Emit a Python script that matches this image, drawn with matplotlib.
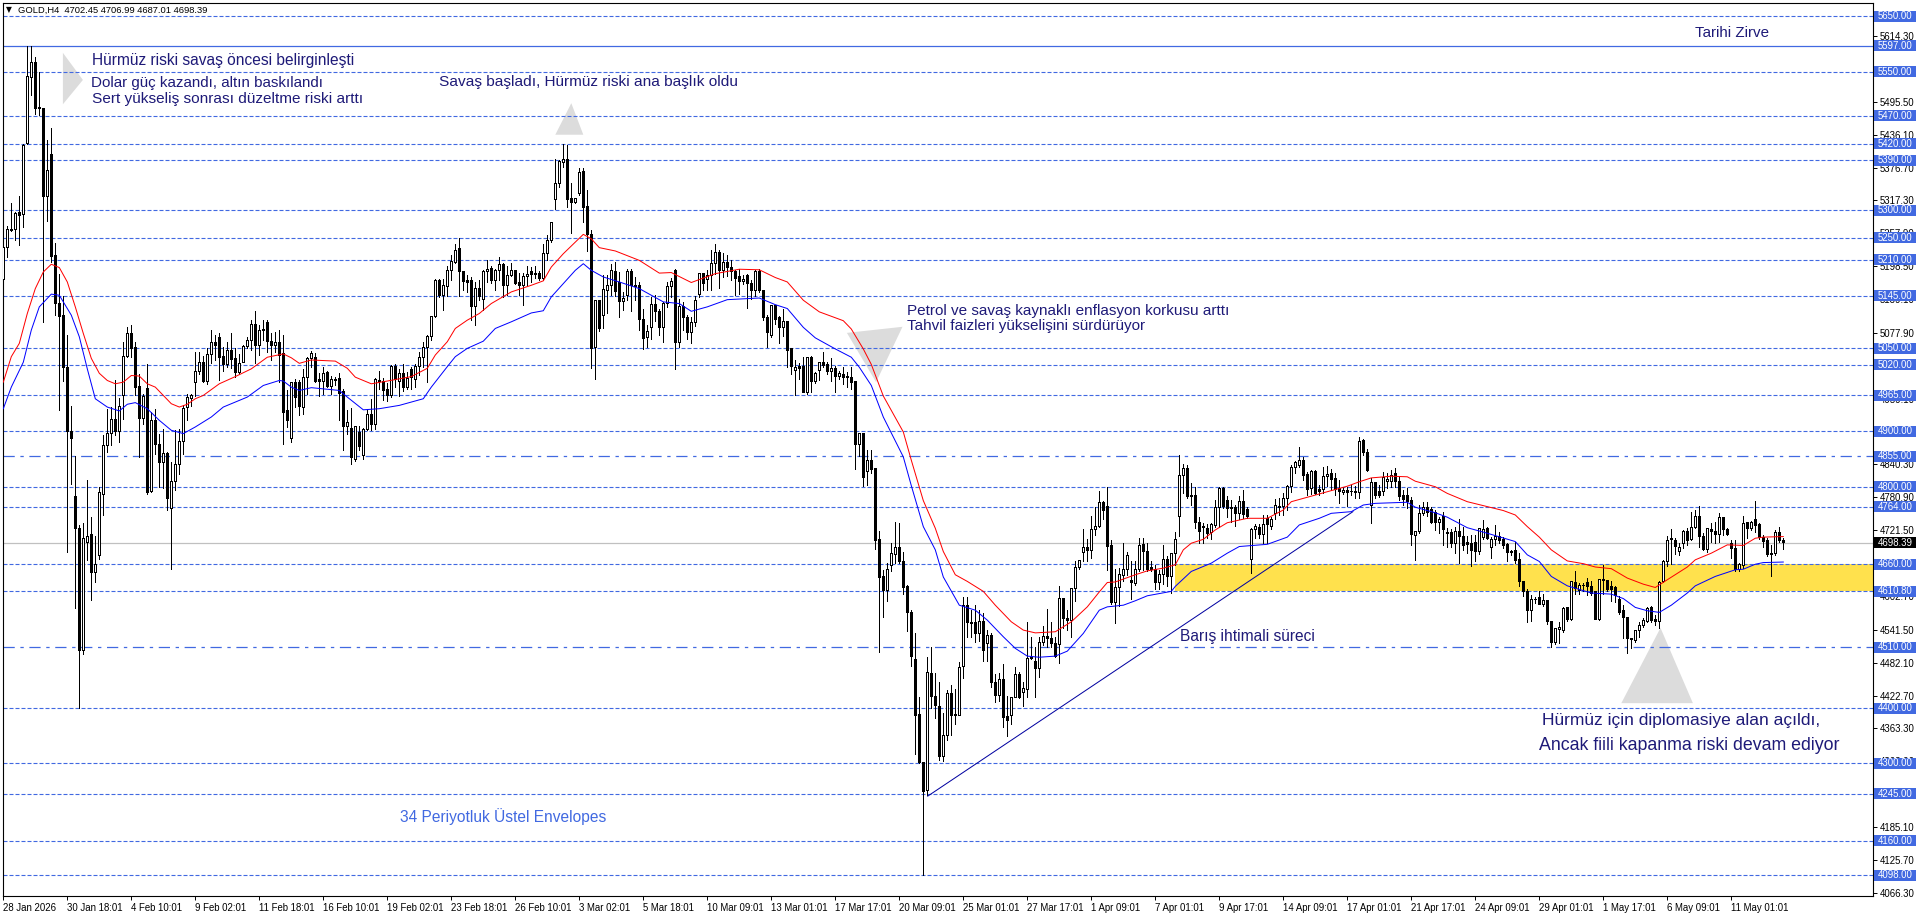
import matplotlib
matplotlib.use("Agg")
import matplotlib.pyplot as plt
from matplotlib.patches import Polygon, Rectangle
from matplotlib.transforms import blended_transform_factory

W, H = 1916, 917

opens = [5174,5233,5263,5265,5296,5292,5421,5540,5566,5486,
5484,5325,5400,5217,5131,5110,5015,4900,4782,4725,
4505,4700,4713,4645,4675,4786,4875,4896,4921,4899,
4964,5035,5077,5052,4981,4923,4977,4792,4920,4877,
4843,4860,4760,4810,4841,4881,4944,4960,4989,5009,
5025,4991,5039,5060,5069,5035,5021,5047,5031,5007,
5025,5053,5064,5093,5056,5085,5097,5062,5056,5060,
5040,4937,4888,4988,4988,4944,4997,5032,5033,4994,
4991,5006,4982,4994,4995,4972,4908,4905,4850,4898,
4857,4904,4931,4913,4992,4990,4976,4965,5018,4991,
5004,4980,5012,4994,5018,5033,5051,5071,5107,5173,
5146,5161,5190,5206,5230,5189,5173,5173,5125,5158,
5138,5188,5195,5173,5190,5201,5163,5182,5191,5169,
5164,5180,5189,5185,5186,5177,5221,5244,5319,5348,
5386,5391,5321,5313,5330,5370,5307,5256,5051,5137,
5109,5155,5163,5189,5169,5134,5146,5189,5164,5164,
5103,5069,5088,5129,5117,5088,5131,5162,5191,5061,
5126,5105,5078,5096,5147,5185,5174,5182,5203,5223,
5191,5205,5197,5188,5179,5170,5182,5167,5155,5189,
5155,5105,5073,5127,5105,5087,5099,5049,5010,5017,
5017,4970,5034,4990,5010,5025,5020,5008,5013,5000,
5002,4999,4998,4990,4876,4896,4827,4848,4833,4704,
4637,4613,4657,4678,4690,4665,4620,4573,4487,4388,
4302,4252,4463,4421,4403,4313,4351,4427,4389,4387,
4475,4586,4555,4555,4535,4557,4516,4532,4446,4422,
4452,4385,4386,4420,4460,4428,4434,4490,4485,4472,
4519,4530,4526,4517,4515,4598,4562,4558,4616,4654,
4681,4690,4685,4723,4728,4772,4764,4693,4591,4618,
4640,4650,4631,4626,4651,4695,4683,4654,4650,4627,
4642,4669,4637,4680,4746,4821,4833,4785,4785,4736,
4729,4725,4717,4730,4763,4796,4776,4763,4763,4751,
4774,4759,4669,4722,4727,4714,4743,4729,4751,4763,
4764,4779,4800,4835,4838,4848,4822,4796,4828,4795,
4795,4818,4824,4815,4797,4790,4793,4792,4792,4789,
4883,4862,4767,4808,4792,4792,4809,4809,4824,4810,
4784,4785,4776,4712,4719,4751,4763,4758,4753,4735,
4747,4717,4717,4698,4720,4711,4700,4698,4699,4683,
4709,4724,4690,4704,4710,4704,4695,4683,4684,4668,
4629,4611,4576,4597,4600,4588,4595,4556,4518,4542,
4541,4582,4561,4627,4613,4621,4627,4620,4610,4561,
4632,4630,4620,4618,4597,4576,4564,4525,4522,4540,
4549,4556,4582,4561,4556,4629,4665,4704,4703,4683,
4698,4719,4704,4726,4747,4711,4686,4723,4719,4714,
4744,4723,4698,4689,4651,4657,4735,4724,4740,4731,
4709,4703,4680,4680,4717,4702.45]

highs = [5235,5272,5312,5296,5326,5419,5596,5596,5577,5549,
5485,5426,5449,5241,5185,5144,5074,4945,4855,4730,
4735,4812,4745,4711,4800,4893,4941,4944,4992,4961,
5062,5088,5092,5061,5004,4968,5022,4935,4941,4896,
4905,4863,4845,4903,4905,4947,4968,4968,5043,5043,
5037,5050,5083,5074,5077,5053,5062,5077,5050,5040,
5056,5071,5101,5118,5092,5101,5101,5077,5080,5083,
5075,4974,4990,4995,4992,5013,5035,5045,5041,5005,
5017,5010,5000,4998,5005,4977,4939,4943,4910,4909,
4906,4938,4959,4996,5010,4996,4988,5020,5021,5013,
5022,5007,5016,5022,5043,5062,5075,5107,5176,5176,
5176,5199,5218,5238,5250,5190,5182,5179,5170,5173,
5192,5210,5198,5194,5215,5204,5198,5205,5192,5186,
5186,5199,5197,5198,5189,5239,5254,5278,5393,5390,
5420,5417,5348,5321,5375,5375,5336,5263,5137,5138,
5182,5182,5202,5206,5188,5152,5193,5194,5179,5170,
5122,5093,5143,5146,5122,5134,5170,5177,5193,5140,
5134,5110,5106,5144,5186,5186,5192,5228,5238,5227,
5223,5218,5209,5192,5194,5183,5185,5174,5192,5194,
5155,5110,5127,5129,5108,5122,5100,5051,5029,5023,
5035,5034,5036,5007,5025,5044,5025,5033,5019,5010,
5016,5007,5016,4990,4897,4897,4866,4866,4833,4720,
4650,4662,4698,4736,4734,4683,4622,4577,4535,4421,
4302,4492,4511,4463,4448,4391,4433,4442,4434,4484,
4601,4600,4578,4586,4578,4571,4542,4535,4462,4463,
4480,4422,4420,4475,4466,4448,4555,4529,4511,4529,
4549,4580,4556,4529,4620,4598,4577,4616,4665,4666,
4723,4705,4747,4764,4793,4775,4799,4704,4651,4653,
4699,4683,4665,4665,4707,4707,4698,4666,4658,4650,
4695,4674,4680,4719,4857,4842,4839,4806,4800,4745,
4734,4733,4734,4776,4800,4799,4783,4776,4767,4783,
4795,4763,4726,4733,4733,4749,4749,4745,4777,4779,
4788,4803,4839,4847,4871,4854,4827,4830,4830,4803,
4836,4837,4832,4825,4813,4799,4800,4803,4801,4889,
4886,4868,4815,4809,4803,4827,4824,4831,4833,4818,
4794,4797,4782,4720,4767,4773,4773,4763,4758,4745,
4755,4725,4723,4728,4741,4728,4711,4713,4713,4726,
4740,4728,4709,4730,4718,4709,4698,4686,4701,4680,
4630,4616,4604,4601,4611,4607,4595,4556,4544,4556,
4583,4583,4630,4648,4626,4627,4635,4629,4610,4634,
4659,4632,4630,4620,4602,4586,4564,4526,4542,4556,
4562,4583,4585,4568,4629,4668,4711,4723,4707,4698,
4722,4726,4754,4758,4765,4716,4725,4734,4737,4752,
4746,4726,4704,4704,4662,4747,4737,4739,4774,4734,
4713,4707,4695,4721,4728,4706.99]

lows = [5158,5215,5262,5246,5236,5270,5420,5507,5473,5471,
5098,5281,5206,5110,4939,4991,4683,4805,4581,4400,
4497,4667,4595,4628,4670,4749,4862,4875,4893,4881,
4923,5035,5034,4965,4854,4914,4787,4790,4860,4800,
4798,4758,4651,4795,4823,4860,4920,4945,4964,5004,
4989,4986,5024,5029,4992,5010,5017,5014,4998,5004,
5025,5050,5047,5023,5038,5065,5044,5029,5044,4990,
4878,4908,4880,4944,4930,4931,4968,5017,4989,4964,
4968,4980,4967,4984,4920,4866,4896,4841,4846,4866,
4850,4902,4902,4905,4977,4956,4955,4962,4980,4964,
4973,4977,4977,4980,5001,5016,4990,5066,5107,5143,
5120,5144,5173,5204,5144,5155,5152,5101,5092,5138,
5119,5170,5168,5155,5173,5143,5146,5180,5167,5146,
5128,5164,5170,5178,5173,5173,5209,5243,5301,5342,
5377,5306,5259,5313,5327,5278,5226,5015,4995,5081,
5086,5114,5146,5144,5107,5120,5137,5118,5137,5084,
5049,5053,5067,5100,5075,5061,5125,5143,5013,5053,
5084,5067,5060,5090,5143,5155,5155,5155,5185,5159,
5179,5180,5173,5146,5149,5167,5123,5140,5144,5152,
5102,5052,5070,5094,5060,5073,5016,5004,4965,4995,
4971,4967,4971,4987,4993,5016,5004,4991,4971,4995,
4986,4980,4977,4832,4855,4802,4804,4825,4687,4502,
4565,4594,4648,4662,4662,4607,4539,4476,4318,4301,
4098,4243,4400,4382,4306,4305,4342,4352,4371,4387,
4455,4528,4528,4520,4522,4486,4486,4438,4412,4413,
4366,4350,4371,4420,4418,4403,4420,4488,4420,4457,
4514,4511,4511,4492,4481,4544,4541,4529,4594,4652,
4665,4665,4672,4713,4728,4741,4650,4588,4553,4585,
4630,4640,4598,4622,4648,4650,4647,4647,4615,4616,
4625,4620,4608,4659,4711,4788,4779,4767,4725,4699,
4698,4707,4705,4727,4728,4761,4745,4737,4729,4741,
4743,4743,4644,4707,4707,4699,4699,4723,4741,4749,
4749,4758,4791,4824,4836,4812,4785,4787,4787,4785,
4789,4801,4794,4785,4770,4787,4765,4785,4779,4779,
4857,4828,4735,4779,4782,4785,4797,4800,4800,4776,
4767,4761,4695,4668,4716,4749,4747,4734,4722,4716,
4695,4692,4692,4681,4662,4686,4681,4657,4665,4679,
4705,4705,4672,4695,4698,4689,4666,4677,4663,4621,
4603,4555,4558,4590,4588,4585,4552,4510,4516,4517,
4538,4558,4559,4607,4607,4612,4604,4604,4561,4560,
4607,4611,4594,4591,4570,4526,4500,4508,4520,4529,
4547,4555,4556,4550,4545,4628,4656,4660,4679,4677,
4690,4694,4704,4726,4692,4686,4683,4701,4698,4701,
4713,4713,4671,4648,4648,4654,4707,4721,4719,4705,
4692,4675,4638,4677,4701,4687.01]

closes = [5233,5265,5265,5294,5290,5417,5541,5566,5484,5483,
5325,5372,5216,5131,5108,5015,4900,4888,4724,4505,
4707,4710,4645,4659,4789,4875,4896,4921,4899,4945,
5036,5077,5050,4980,4923,4963,4790,4920,4877,4843,
4860,4778,4810,4841,4881,4941,4962,4964,5009,5025,
4991,5039,5060,5056,5033,5021,5047,5030,5006,5022,
5054,5064,5093,5056,5083,5082,5062,5056,5060,5038,
4935,4920,4988,4961,4945,4997,5032,5041,4991,4991,
5005,4982,4994,4992,4968,4908,4916,4852,4908,4873,
4904,4931,4913,4994,4990,4974,4965,5018,4994,5004,
4980,4996,4998,5018,5033,5051,5071,5107,5173,5146,
5163,5191,5207,5227,5188,5170,5169,5125,5158,5143,
5189,5192,5173,5191,5201,5163,5182,5191,5168,5164,
5180,5184,5183,5183,5177,5221,5245,5277,5348,5387,
5391,5319,5313,5321,5368,5305,5256,5050,5136,5086,
5156,5164,5191,5152,5134,5141,5189,5163,5162,5102,
5067,5081,5129,5116,5088,5131,5162,5171,5061,5126,
5105,5078,5096,5137,5185,5168,5182,5203,5223,5191,
5205,5197,5188,5177,5170,5174,5167,5155,5189,5155,
5105,5078,5127,5102,5087,5099,5047,5018,5015,5014,
4971,5033,4990,5004,5025,5019,5008,5013,5000,5004,
4998,4997,4989,4876,4897,4817,4848,4831,4703,4636,
4613,4650,4680,4690,4665,4618,4572,4493,4386,4301,
4250,4465,4421,4405,4312,4351,4427,4386,4386,4474,
4586,4555,4553,4534,4557,4505,4532,4446,4422,4452,
4383,4377,4420,4460,4420,4436,4490,4491,4472,4519,
4530,4525,4516,4493,4598,4562,4558,4616,4654,4666,
4690,4685,4723,4728,4772,4757,4692,4591,4618,4642,
4651,4676,4627,4651,4693,4683,4651,4651,4627,4642,
4669,4637,4680,4705,4821,4833,4782,4782,4735,4719,
4727,4716,4731,4763,4796,4764,4761,4760,4752,4774,
4749,4746,4722,4729,4713,4731,4731,4740,4767,4765,
4779,4801,4835,4844,4848,4821,4795,4827,4788,4792,
4818,4822,4814,4795,4791,4793,4789,4791,4789,4882,
4862,4830,4808,4785,4785,4816,4813,4821,4809,4782,
4777,4774,4713,4720,4752,4763,4753,4735,4735,4740,
4722,4715,4697,4720,4710,4694,4696,4685,4683,4725,
4722,4707,4704,4711,4702,4694,4681,4682,4666,4629,
4611,4576,4597,4596,4588,4595,4556,4518,4544,4545,
4580,4561,4629,4617,4621,4621,4620,4608,4561,4633,
4630,4614,4615,4604,4573,4564,4525,4524,4540,4550,
4558,4580,4559,4556,4627,4665,4703,4707,4692,4690,
4719,4703,4727,4747,4710,4686,4724,4719,4714,4745,
4722,4714,4689,4650,4659,4734,4724,4735,4730,4709,
4701,4677,4678,4717,4702,4698.39]

red_bars = [0,2,4,6,8,10,12,14,16,18,20,22,24,26,28,30,32,34,36,38,40,42,44,46,48,50,54,58,62,66,70,72,74,77,83,86,88,92,96,102,106,108,111,113,116,119,122,127,132,135,137,140,143,145,147,149,153,159,164,167,172,178,184,189,193,196,200,204,210,212,215,217,220,225,227,230,233,235,238,241,245,248,252,255,258,263,265,267,271,274,276,278,283,286,290,293,295,297,300,303,306,311,316,320,322,325,331,336,339,342,347,351,353,358,361,366,371,375,378,381,384,387,391,395,398,402,406,410,413,416,421,423,427,431,435,438,440,445]
red_vals = [4989,5035,5059,5113,5158,5188,5202,5196,5170,5125,5077,5032,5005,4992,4986,4989,5001,5000,4986,4980,4965,4950,4944,4949,4959,4965,4986,4999,5013,5034,5040,5033,5023,5029,5027,5014,4998,4986,4991,4999,5014,5038,5062,5086,5101,5113,5131,5152,5164,5172,5197,5221,5242,5256,5248,5232,5226,5209,5186,5187,5169,5185,5193,5192,5178,5170,5137,5116,5100,5085,5049,5021,4964,4899,4848,4775,4725,4683,4641,4629,4611,4586,4556,4541,4536,4538,4547,4556,4583,4610,4627,4628,4641,4648,4653,4659,4686,4698,4705,4722,4735,4743,4743,4758,4773,4779,4791,4801,4809,4816,4819,4818,4810,4800,4788,4773,4764,4757,4749,4728,4709,4686,4666,4661,4655,4652,4635,4624,4618,4632,4655,4668,4680,4695,4694,4707,4709,4710]

blue_bars = [0,2,5,7,9,12,14,17,19,21,23,26,29,31,33,36,39,42,45,48,52,55,61,65,69,70,72,74,77,84,86,90,94,99,105,107,111,113,116,120,123,127,132,135,137,140,143,145,147,150,154,159,162,165,169,172,176,181,186,189,193,196,200,203,208,212,214,217,220,225,227,230,233,235,239,243,246,250,253,256,259,263,266,270,274,276,280,283,286,292,293,297,302,306,309,316,321,324,329,332,337,340,343,351,353,358,361,366,371,378,381,384,387,391,397,402,405,408,411,414,417,421,423,428,433,435,438,440,445]
blue_vals = [4941,4980,5025,5083,5125,5148,5146,5110,5071,5013,4959,4944,4937,4949,4952,4941,4920,4902,4896,4908,4926,4944,4962,4983,4992,4991,4980,4974,4979,4974,4962,4939,4941,4947,4959,4980,5017,5035,5050,5063,5086,5098,5114,5118,5143,5167,5191,5203,5191,5179,5170,5158,5146,5134,5131,5117,5125,5138,5140,5141,5129,5122,5088,5069,5049,5034,5016,4983,4926,4854,4802,4728,4686,4637,4586,4577,4559,4529,4508,4494,4492,4494,4503,4535,4577,4583,4586,4594,4603,4611,4620,4647,4662,4680,4692,4696,4709,4731,4743,4752,4755,4767,4770,4772,4763,4753,4745,4726,4716,4701,4677,4665,4638,4621,4608,4606,4598,4582,4576,4573,4586,4608,4621,4638,4650,4651,4660,4663,4664]

# horizontal levels
dashed_levels = [5650,5550,5470,5420,5390,5300,5250,5210,5145,5050,5020,4965,4900,4800,4764,4660,4610.80,4400,4300,4245,4160,4098]
dashdot_levels = [4855,4510]
peak_level = 5597
last_price = 4698.39

axis_prices = [5614.30,5495.50,5436.10,5376.70,5317.30,5257.90,5198.50,5139.10,5077.90,5018.50,4959.10,4899.70,4840.30,4780.90,4721.50,4662.10,4602.70,4541.50,4482.10,4422.70,4363.30,4303.90,4244.50,4185.10,4125.70,4066.30]

date_labels = ['28 Jan 2026','30 Jan 18:01','4 Feb 10:01','9 Feb 02:01','11 Feb 18:01','16 Feb 10:01','19 Feb 02:01','23 Feb 18:01','26 Feb 10:01','3 Mar 02:01','5 Mar 18:01','10 Mar 09:01','13 Mar 01:01','17 Mar 17:01','20 Mar 09:01','25 Mar 01:01','27 Mar 17:01','1 Apr 09:01','7 Apr 01:01','9 Apr 17:01','14 Apr 09:01','17 Apr 01:01','21 Apr 17:01','24 Apr 09:01','29 Apr 01:01','1 May 17:01','6 May 09:01','11 May 01:01']

# gray marker triangles (bar, price)
triangles = [
    [(14.9,5584),(14.9,5491),(19.9,5535)],
    [(142,5493),(138,5436),(145,5436)],
    [(210.9,5078),(224.8,5089),(218.2,4989)],
    [(414.3,4545),(404.5,4409),(422.4,4409)],
]
trend_bars = [231.1,337.4]
trend_prices = [4241,4755]
zone_start = 293
zone_low, zone_high = 4610.80, 4660

# annotation text, x and y in picture pixels, then font size
notes = [
    ("Hürmüz riski savaş öncesi belirginleşti",92,61,'#1e1a78',11.2),
    ("Dolar güç kazandı, altın baskılandı",91,83,'#1e1a78',10.9),
    ("Sert yükseliş sonrası düzeltme riski arttı",92,99,'#1e1a78',11.1),
    ("Savaş başladı, Hürmüz riski ana başlık oldu",439,82,'#1e1a78',11.05),
    ("Petrol ve savaş kaynaklı enflasyon korkusu arttı",907,311,'#1e1a78',10.95),
    ("Tahvil faizleri yükselişini sürdürüyor",907,326,'#1e1a78',11),
    ("Tarihi Zirve",1695,33,'#1e1a78',10.9),
    ("34 Periyotluk Üstel Envelopes",400,817,'#4169e1',11.2),
    ("Barış ihtimali süreci",1180,637,'#1e1a78',11.2),
    ("Hürmüz için diplomasiye alan açıldı,",1542,720,'#1e1a78',12.5),
    ("Ancak fiili kapanma riski devam ediyor",1539,745,'#1e1a78',12.8),
]

LEVEL = '#4169e1'
plt.rcParams['font.family'] = ['Liberation Sans', 'DejaVu Sans']

fig = plt.figure(figsize=(W/100, H/100), dpi=100, facecolor='white')
left, right, top, bottom = 2.5, 1873, 2.5, 896
ax = fig.add_axes([left/W, 1-bottom/H, (right-left)/W, (bottom-top)/H])
ax.set_xlim((left-3.3)/4, (right-3.3)/4)
ax.set_ylim(4060.6, 5674.9)
for s in ax.spines.values():
    s.set_linewidth(0.8)

ax.axhspan(zone_low, zone_high, xmin=(zone_start*4+3.3-left)/(right-left), color='#ffe14d', lw=0, zorder=1)
ax.axhline(last_price, color='#c0c0c0', lw=0.9, zorder=1.5)
for lv in dashed_levels:
    ax.axhline(lv, color=LEVEL, lw=0.8, ls=(0,(3.6,1.8)), zorder=2)
for lv in dashdot_levels:
    ax.axhline(lv, color=LEVEL, lw=0.9, ls=(0,(9,4.5,2.7,4.5)), zorder=2)
ax.axhline(peak_level, color=LEVEL, lw=0.9, zorder=2)

for tri in triangles:
    ax.add_patch(Polygon(tri, closed=True, fc='#dcdcdc', ec='none', zorder=1.8))

# candles: black 3 px body, up candles get a white 1 px core
PX = 1.8067
bars = range(len(closes))
ax.vlines(bars, lows, highs, color='black', lw=0.7, zorder=3, antialiased=False)
for i in bars:
    lo, hi = min(opens[i], closes[i]), max(opens[i], closes[i])
    ax.add_patch(Rectangle((i-0.375, lo-PX/2), 0.75, hi-lo+PX, fc='black', ec='none', zorder=3.2, antialiased=False))
    if closes[i] > opens[i] and hi-lo > PX:
        ax.add_patch(Rectangle((i-0.125, lo+PX/2), 0.25, hi-lo-PX, fc='white', ec='none', zorder=3.3, antialiased=False))

ax.plot(trend_bars, trend_prices, color='#0000a0', lw=0.72, zorder=3.5)
ax.plot(red_bars, red_vals, color='#ff0000', lw=0.72, zorder=4)
ax.plot(blue_bars, blue_vals, color='#0000ff', lw=0.72, zorder=4)

# axes
ax.yaxis.tick_right()
ax.set_yticks(axis_prices)
ax.set_yticklabels(['%.2f' % p for p in axis_prices], fontsize=6.9)
ax.tick_params(axis='y', length=3, width=0.7, pad=1.5)
ax.set_xticks(list(range(0, len(date_labels)*16, 16)))
ax.set_xticklabels(date_labels, fontsize=6.9, ha='left')
ax.tick_params(axis='x', length=3, width=0.7, pad=2)

# price boxes over the right scale
trans = blended_transform_factory(ax.transAxes, ax.transData)
box_w = 42/(right-left)
box_h = 11*PX
for lv in dashed_levels + dashdot_levels + [peak_level]:
    ax.add_patch(Rectangle((1.0005, lv-box_h/2), box_w, box_h, transform=trans, fc=LEVEL, ec='none', clip_on=False, zorder=6))
    ax.text(1.0005+box_w/2, lv, '%.2f' % lv, transform=trans, color='white', fontsize=6.9, ha='center', va='center', clip_on=False, zorder=7)
ax.add_patch(Rectangle((1.0005, last_price-box_h/2), box_w, box_h, transform=trans, fc='black', ec='none', clip_on=False, zorder=6))
ax.text(1.0005+box_w/2, last_price, '%.2f' % last_price, transform=trans, color='white', fontsize=6.9, ha='center', va='center', clip_on=False, zorder=7)

# header
fig.text(6/W, 1-10/H, '▼', fontsize=5.5, va='center', family='DejaVu Sans')
fig.text(18/W, 1-10.5/H, 'GOLD,H4  4702.45 4706.99 4687.01 4698.39', fontsize=6.75, va='center')

for txt, x, y, col, size in notes:
    fig.text(x/W, 1-y/H, txt, color=col, fontsize=size, va='center', ha='left', zorder=8)

fig.savefig('out.png', dpi=100)
